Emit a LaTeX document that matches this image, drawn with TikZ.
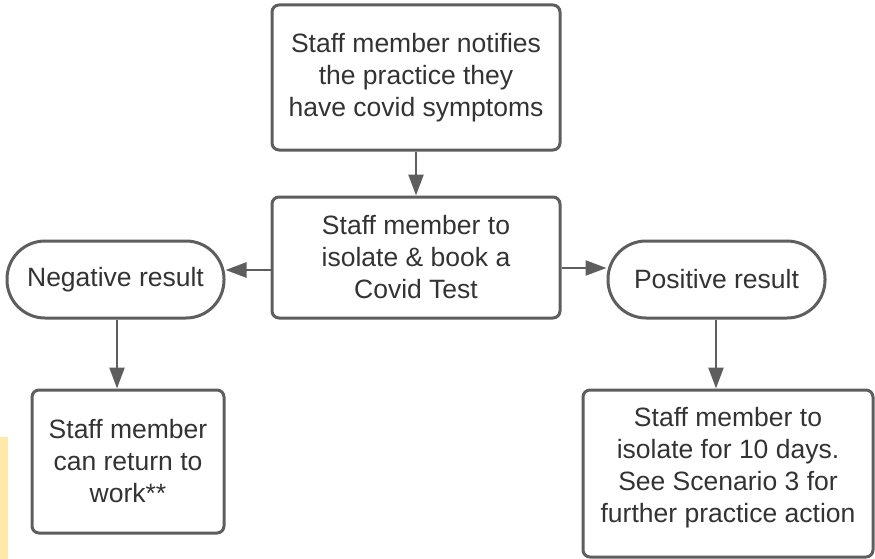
\documentclass[tikz,border=0pt]{standalone}
\usepackage{fontspec}
\setmainfont{Liberation Sans}
\usetikzlibrary{arrows.meta}
\definecolor{edge}{HTML}{5E5E5E}
\definecolor{ink}{HTML}{333333}
\definecolor{note}{HTML}{FFE9A8}
\begin{document}
\begin{tikzpicture}[x=1pt,y=-1pt,
  txt/.style={text=ink,font=\fontsize{26.5}{32}\selectfont,align=center,inner sep=0pt},
  stepbox/.style={draw=edge,line width=3pt,fill=white,rounded corners=7pt,txt},
  pill/.style={draw=edge,line width=3pt,fill=white,rounded corners=38pt,txt},
  conn/.style={draw=edge,line width=2.5pt,-{Triangle[length=21pt,width=15pt]}}]
\useasboundingbox (0,0) rectangle (875,559);
\fill[note] (0,437) rectangle (8,559);
\node[stepbox,minimum width=288pt,minimum height=145pt] (notify) at (416,77.5)
  {Staff member notifies\\the practice they\\have covid symptoms};
\node[stepbox,minimum width=288pt,minimum height=121pt] (isolate) at (416,257.5)
  {Staff member to\\isolate \& book a\\Covid Test};
\node[pill,minimum width=217pt,minimum height=77pt] (neg) at (115.5,279.5) {Negative result};
\node[pill,minimum width=217pt,minimum height=77pt] (pos) at (716.5,279.5) {Positive result};
\node[stepbox,minimum width=192pt,minimum height=143pt] (ret) at (128,461.5)
  {Staff member\\can return to\\work**};
\node[stepbox,minimum width=290pt,minimum height=167pt] (ten) at (728,473.5) {};
\node[txt] (tentext) at (728,468)
  {Staff member to\\isolate for 10 days.\\See Scenario 3 for\\further practice action};
\draw[conn] (notify.south) -- (isolate.north);
\draw[conn] (isolate.west |- 0,270) -- (neg.east |- 0,270);
\draw[conn] (isolate.east |- 0,268) -- (pos.west |- 0,268);
\draw[conn] (neg.south -| 117,0) -- (ret.north -| 117,0);
\draw[conn] (pos.south -| 716,0) -- (ten.north -| 716,0);
\end{tikzpicture}
\end{document}
